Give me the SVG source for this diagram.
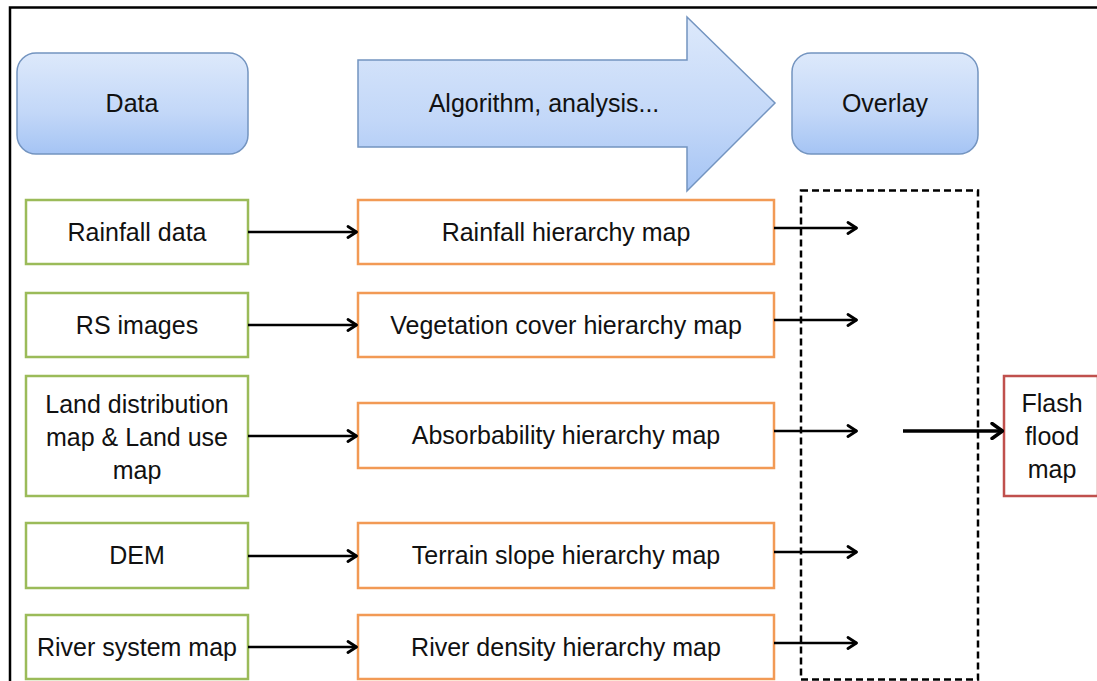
<svg xmlns="http://www.w3.org/2000/svg" width="1097" height="681" viewBox="0 0 1097 681">
<defs>
<linearGradient id="blue" x1="0" y1="0" x2="0" y2="1">
<stop offset="0" stop-color="#dde9fb"/>
<stop offset="0.6" stop-color="#c2d7f8"/>
<stop offset="1" stop-color="#a5c4f4"/>
</linearGradient>
<marker id="chev" viewBox="0 0 12 14" refX="11" refY="7" markerWidth="12" markerHeight="14" markerUnits="userSpaceOnUse" orient="auto">
<path d="M2,1.5 L10.5,7 L2,12.5" fill="none" stroke="#000" stroke-width="2.8" stroke-linecap="round" stroke-linejoin="round"/>
</marker>
<marker id="chevBig" viewBox="0 0 14 18" refX="13" refY="9" markerWidth="14" markerHeight="18" markerUnits="userSpaceOnUse" orient="auto">
<path d="M2,1.5 L12.5,9 L2,16.5" fill="none" stroke="#000" stroke-width="3.4" stroke-linecap="round" stroke-linejoin="round"/>
</marker>
</defs>
<style>
text{font-family:"Liberation Sans",Arial,sans-serif;font-size:25px;fill:#111;text-anchor:middle}
.hdr{fill:url(#blue);stroke:#7394c0;stroke-width:1.5}
.g{fill:#fff;stroke:#9bbb59;stroke-width:2.5}
.o{fill:#fff;stroke:#f29a55;stroke-width:2.5}
.r{fill:#fff;stroke:#c0504d;stroke-width:2.5}
.c{fill:none;stroke:#000;stroke-width:2.5}
</style>
<rect width="1097" height="681" fill="#fff"/>
<path d="M10,681 L10,7.5 L1097,7.5" fill="none" stroke="#000" stroke-width="2.5"/>

<g id="data-header"><rect class="hdr" x="17" y="53" width="231" height="101" rx="19"/><text x="132" y="112">Data</text></g>
<g id="algorithm-header"><path class="hdr" d="M358,60 L687,60 L687,17 L775,103 L687,191 L687,147 L358,147 Z"/><text x="544" y="112">Algorithm, analysis...</text></g>
<g id="overlay-header"><rect class="hdr" x="792" y="53" width="186" height="101" rx="19"/><text x="885" y="112">Overlay</text></g>

<g id="overlay-box"><rect x="801" y="190.5" width="177" height="489" fill="none" stroke="#000" stroke-width="2.5" stroke-dasharray="7,4"/></g>

<g id="rainfall-data"><rect class="g" x="26" y="200" width="222" height="64"/><text x="137" y="241">Rainfall data</text></g>
<g id="rs-images"><rect class="g" x="26" y="293" width="222" height="64"/><text x="137" y="334">RS images</text></g>
<g id="land-map"><rect class="g" x="26" y="376" width="222" height="120"/><text x="137" y="413">Land distribution</text><text x="137" y="446">map &amp; Land use</text><text x="137" y="479">map</text></g>
<g id="dem"><rect class="g" x="26" y="523" width="222" height="65"/><text x="137" y="564">DEM</text></g>
<g id="river-system"><rect class="g" x="26" y="615" width="222" height="64"/><text x="137" y="656">River system map</text></g>

<g id="rainfall-hier"><rect class="o" x="358" y="200" width="416" height="64"/><text x="566" y="241">Rainfall hierarchy map</text></g>
<g id="vegetation-hier"><rect class="o" x="358" y="293" width="416" height="64"/><text x="566" y="334">Vegetation cover hierarchy map</text></g>
<g id="absorb-hier"><rect class="o" x="358" y="403" width="416" height="65"/><text x="566" y="444">Absorbability hierarchy map</text></g>
<g id="slope-hier"><rect class="o" x="358" y="523" width="416" height="65"/><text x="566" y="564">Terrain slope hierarchy map</text></g>
<g id="river-hier"><rect class="o" x="358" y="615" width="416" height="64"/><text x="566" y="656">River density hierarchy map</text></g>

<g id="flash-flood"><rect class="r" x="1004" y="376" width="94" height="120"/><text x="1052" y="412">Flash</text><text x="1052" y="445">flood</text><text x="1052" y="478">map</text></g>

<g id="connectors">
<line class="c" x1="248" y1="232" x2="357" y2="232" marker-end="url(#chev)"/>
<line class="c" x1="248" y1="325" x2="357" y2="325" marker-end="url(#chev)"/>
<line class="c" x1="248" y1="436" x2="357" y2="436" marker-end="url(#chev)"/>
<line class="c" x1="248" y1="556" x2="357" y2="556" marker-end="url(#chev)"/>
<line class="c" x1="248" y1="647" x2="357" y2="647" marker-end="url(#chev)"/>
<line class="c" x1="774" y1="228" x2="857" y2="228" marker-end="url(#chev)"/>
<line class="c" x1="774" y1="320" x2="857" y2="320" marker-end="url(#chev)"/>
<line class="c" x1="774" y1="431" x2="857" y2="431" marker-end="url(#chev)"/>
<line class="c" x1="774" y1="552" x2="857" y2="552" marker-end="url(#chev)"/>
<line class="c" x1="774" y1="643" x2="857" y2="643" marker-end="url(#chev)"/>
<line x1="903" y1="431" x2="1003" y2="431" stroke="#000" stroke-width="3.5" marker-end="url(#chevBig)"/>
</g>
</svg>
